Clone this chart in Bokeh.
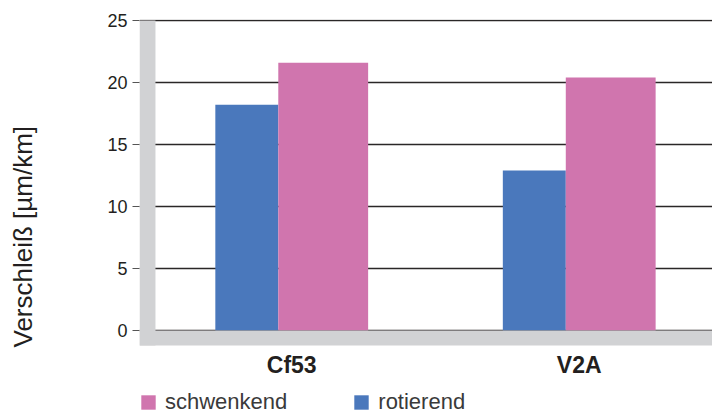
from bokeh.plotting import figure
from bokeh.models import (ColumnDataSource, Range1d, FixedTicker, BoxAnnotation,
                          Legend, LegendItem, Title)
from bokeh.core.properties import value
from bokeh.embed import file_html
from bokeh.resources import INLINE

# ---- data ----
categories = ["Cf53", "V2A"]
rotierend = [18.2, 12.9]
schwenkend = [21.6, 20.4]
y_ticks = [0, 5, 10, 15, 20, 25]

idx = list(range(len(categories)))
blue_w = 0.219
pink_w = 0.3125
group_w = blue_w + pink_w
blue_off = -group_w / 2 + blue_w / 2
pink_off = -group_w / 2 + blue_w + pink_w / 2

PX = 12.4          # pixels per unit on the y scale
label_y = -34 / PX  # category labels below the floor

src = ColumnDataSource(dict(
    x=idx,
    xb=[i + blue_off for i in idx],
    xp=[i + pink_off for i in idx],
    rot=rotierend,
    sch=schwenkend,
    cat=categories,
    ly=[label_y] * len(idx),
))

x_start = -0.5295
x_end = x_start + 574 / 288
wall_right = x_start + 16 / 288
floor_bottom = -15 / PX

p = figure(width=712, height=415, output_backend="svg", toolbar_location=None,
           x_range=Range1d(x_start, x_end),
           y_range=Range1d(-85 / PX, 311 / PX),
           x_axis_location=None,
           min_border_left=138, min_border_right=0, min_border_top=19,
           min_border_bottom=0)
p.outline_line_color = None
p.background_fill_color = "white"
p.border_fill_color = "white"

blue = "#4a78bc"
pink = "#d075ae"
grey = "#d1d2d4"

rb = p.vbar(x="xb", width=blue_w, bottom=0, top="rot", source=src,
            fill_color=blue, line_color=None)
rp = p.vbar(x="xp", width=pink_w, bottom=0, top="sch", source=src,
            fill_color=pink, line_color=None)

# grey 3D wall and floor
p.add_layout(BoxAnnotation(right=wall_right, bottom=floor_bottom, top=25,
                           fill_color=grey, fill_alpha=1.0,
                           line_color=None, level="overlay"))
p.add_layout(BoxAnnotation(top=0, bottom=floor_bottom, fill_color=grey,
                           fill_alpha=1.0, line_color=None, level="overlay"))

# category labels
p.text(x="x", y="ly", text="cat", source=src, text_align="center",
       text_baseline="middle", text_font=value("Liberation Sans"),
       text_font_size="23px", text_font_style="bold", text_color="#231f20")

# grid
p.xgrid.grid_line_color = None
p.ygrid.ticker = FixedTicker(ticks=y_ticks)
p.ygrid.grid_line_color = "#2a2727"
p.ygrid.grid_line_width = 1.5

# y axis
p.yaxis.ticker = FixedTicker(ticks=y_ticks)
p.yaxis.axis_line_color = None
p.yaxis.major_tick_in = 0
p.yaxis.major_tick_out = 7
p.yaxis.major_tick_line_color = "#555555"
p.yaxis.minor_tick_line_color = None
p.yaxis.major_label_standoff = 5
p.yaxis.major_label_text_font = "Liberation Sans"
p.yaxis.major_label_text_font_size = "18px"
p.yaxis.major_label_text_color = "#231f20"

# spacer between tick labels and y title
p.add_layout(Title(text=" ", text_font_size="1px", standoff=59), "left")
# y title
p.add_layout(Title(text="Verschleiß [µm/km]", align="left", offset=68,
                   standoff=10, text_font="Liberation Sans",
                   text_font_size="26px", text_font_style="normal",
                   text_color="#231f20"), "left")

legend = Legend(items=[LegendItem(label="schwenkend", renderers=[rp]),
                       LegendItem(label="rotierend", renderers=[rb])],
                orientation="horizontal", location=(0, 0),
                glyph_width=18, glyph_height=18, label_standoff=8,
                label_height=18,
                spacing=65, padding=0, margin=0, border_line_color=None,
                background_fill_alpha=0,
                label_text_font="Liberation Sans", label_text_font_size="22px",
                label_text_color="#3a3a3a")
p.add_layout(legend, "center")

open("out.html", "w").write(file_html(p, INLINE))
